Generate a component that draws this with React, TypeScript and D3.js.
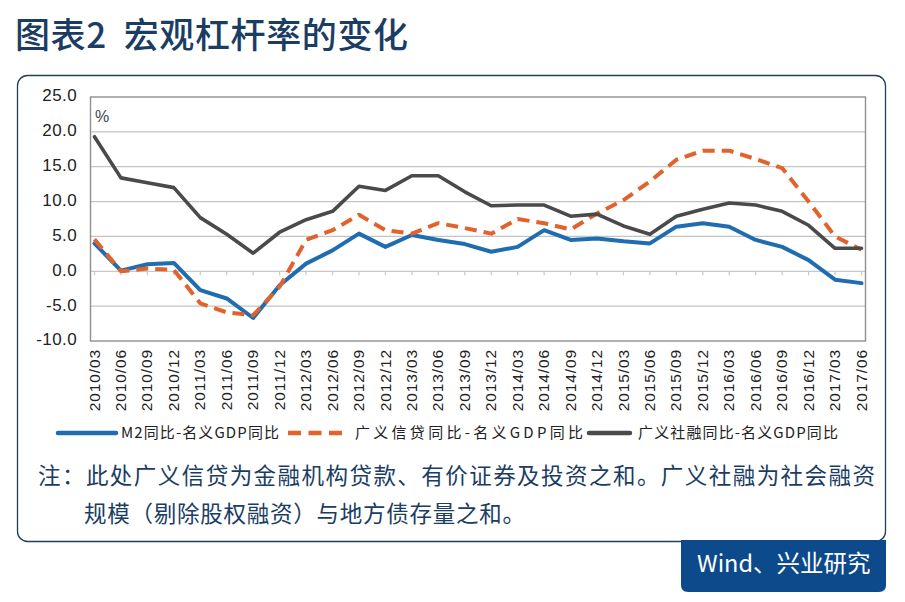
import React from "react";
import * as d3 from "d3";

const categories = [
  "2010/03","2010/06","2010/09","2010/12",
  "2011/03","2011/06","2011/09","2011/12",
  "2012/03","2012/06","2012/09","2012/12",
  "2013/03","2013/06","2013/09","2013/12",
  "2014/03","2014/06","2014/09","2014/12",
  "2015/03","2015/06","2015/09","2015/12",
  "2016/03","2016/06","2016/09","2016/12",
  "2017/03","2017/06",
];

const m2Values = [
  4.0, 0.1, 1.0, 1.2,
  -2.7, -3.9, -6.7, -2.0,
  1.1, 3.0, 5.4, 3.5,
  5.2, 4.5, 3.9, 2.8,
  3.5, 5.9, 4.5, 4.7,
  4.3, 4.0, 6.4, 6.9,
  6.4, 4.5, 3.5, 1.6,
  -1.2, -1.7,
];

const creditValues = [
  4.6, 0.0, 0.4, 0.2,
  -4.6, -5.9, -6.3, -2.2,
  4.5, 5.9, 8.1, 5.9,
  5.4, 6.9, 6.2, 5.4,
  7.5, 6.9, 6.0, 8.3,
  10.2, 12.9, 16.0, 17.3,
  17.3, 16.1, 14.8, 10.0,
  5.0, 3.1,
];

const socialValues = [
  19.3, 13.4, 12.7, 12.0,
  7.7, 5.3, 2.6, 5.6,
  7.4, 8.6, 12.2, 11.6,
  13.7, 13.7, 11.4, 9.4,
  9.5, 9.5, 7.9, 8.2,
  6.5, 5.3, 7.9, 8.9,
  9.8, 9.5, 8.6, 6.6,
  3.3, 3.3,
];

const yTicks = [25, 20, 15, 10, 5, 0, -5, -10];
const seriesNames = ["M2同比-名义GDP同比", "广义信贷同比-名义GDP同比", "广义社融同比-名义GDP同比"];
const titleText = "图表2  宏观杠杆率的变化";
const noteLine1 = "注：此处广义信贷为金融机构贷款、有价证券及投资之和。广义社融为社会融资";
const noteLine2 = "规模（剔除股权融资）与地方债存量之和。";
const sourceText = "Wind、兴业研究";

const BLUE = "#1f6cb0";
const ORANGE = "#e2622b";
const GRAY = "#4a4a4a";
const NAVY = "#1b3d63";
const CJK = "'Noto Sans CJK SC', 'Noto Sans', sans-serif";
const NUM = "'Liberation Sans', Arial, sans-serif";

export default function App() {
  const plotL = 90.5, plotR = 865.5, plotT = 97, plotB = 341;
  const x = d3.scalePoint<string>().domain(categories).range([94.5, 861.5]);
  const y = d3.scaleLinear().domain([-10, 25]).range([plotB, plotT]);

  const mk = (vals: number[]) =>
    d3.line<number>().x((_, i) => x(categories[i]) as number).y((d) => y(d))(vals) || "";

  const y0 = y(0);

  return (
    <svg
      width={905}
      height={602}
      style={{ position: "absolute", left: 0, top: 0, background: "#fff" }}
      xmlns="http://www.w3.org/2000/svg"
    >
      <rect x={0} y={0} width={905} height={602} fill="#fff" />
      {/* title */}
      <text x={15} y={48} fontFamily={CJK} fontSize={35} fontWeight={500} fill={NAVY} xmlSpace="preserve" textLength={393} lengthAdjust="spacing">
        {titleText}
      </text>

      {/* frame */}
      <rect x={17.5} y={75.5} width={868} height={466} rx={10} ry={10} fill="#fff" stroke="#1d4055" strokeWidth={1.3} />

      {/* gridlines */}
      {yTicks.filter((t) => t !== 25 && t !== -10 && t !== 0).map((t) => (
        <line key={t} x1={plotL} x2={plotR} y1={y(t)} y2={y(t)} stroke="#c4c4c4" strokeWidth={1.3} />
      ))}
      {/* zero axis */}
      <line x1={plotL} x2={plotR} y1={y0} y2={y0} stroke="#c8c8c8" strokeWidth={1.3} />
      {categories.map((c) => (
        <line key={c} x1={x(c)} x2={x(c)} y1={y0} y2={y0 + 4} stroke="#c8c8c8" strokeWidth={1.2} />
      ))}
      {/* plot border */}
      <rect x={plotL} y={plotT} width={plotR - plotL} height={plotB - plotT} fill="none" stroke="#8f8f8f" strokeWidth={1.4} />

      {/* y labels */}
      {yTicks.map((t) => (
        <text key={t} x={77} y={y(t)} textAnchor="end" dominantBaseline="middle" fontFamily={NUM} fontSize={17} fill="#222" letterSpacing={0.4}>
          {t.toFixed(1)}
        </text>
      ))}
      <text x={95} y={118} dominantBaseline="middle" fontFamily={NUM} fontSize={16} fill="#444">%</text>

      {/* x labels */}
      {categories.map((c) => (
        <text
          key={c}
          transform={`translate(${(x(c) as number) + 1},${349}) rotate(-90)`}
          textAnchor="end"
          dominantBaseline="middle"
          fontFamily={NUM}
          fontSize={15.5}
          letterSpacing={0.9}
          fill="#222"
        >
          {c}
        </text>
      ))}

      {/* series */}
      <path d={mk(m2Values)} fill="none" stroke={BLUE} strokeWidth={4} strokeLinejoin="round" strokeLinecap="round" />
      <path d={mk(creditValues)} fill="none" stroke={ORANGE} strokeWidth={4} strokeDasharray="12,7" strokeLinejoin="round" />
      <path d={mk(socialValues)} fill="none" stroke={GRAY} strokeWidth={3.6} strokeLinejoin="round" strokeLinecap="round" />

      {/* legend */}
      <line x1={58} x2={116} y1={433} y2={433} stroke={BLUE} strokeWidth={4.5} strokeLinecap="round" />
      <text x={121} y={434} dominantBaseline="middle" fontFamily={CJK} fontSize={15} fill="#222" textLength={158} lengthAdjust="spacing">
        {seriesNames[0]}
      </text>
      <line x1={288} x2={342} y1={433} y2={433} stroke={ORANGE} strokeWidth={4.5} strokeDasharray="13,7.5" />
      <text x={355} y={434} dominantBaseline="middle" fontFamily={CJK} fontSize={15} fill="#222" textLength={228} lengthAdjust="spacing">
        {seriesNames[1]}
      </text>
      <line x1={589} x2={630} y1={433} y2={433} stroke={GRAY} strokeWidth={4.5} strokeLinecap="round" />
      <text x={638} y={434} dominantBaseline="middle" fontFamily={CJK} fontSize={15} fill="#222" textLength={200} lengthAdjust="spacing">
        {seriesNames[2]}
      </text>

      {/* note */}
      <text x={38} y={478} dominantBaseline="middle" fontFamily={CJK} fontSize={22.5} fill={NAVY} textLength={837} lengthAdjust="spacing">
        {noteLine1}
      </text>
      <text x={84} y={516} dominantBaseline="middle" fontFamily={CJK} fontSize={22.5} fill={NAVY} textLength={441} lengthAdjust="spacing">
        {noteLine2}
      </text>

      {/* source box */}
      <path
        d="M681,540 L886,540 L886,585 Q886,592 879,592 L688,592 Q681,592 681,585 Z"
        fill="#0c4a8c"
      />
      <text x={697} y={566} dominantBaseline="middle" fontFamily={CJK} fontSize={23.5} fill="#fff">
        {sourceText}
      </text>
    </svg>
  );
}
